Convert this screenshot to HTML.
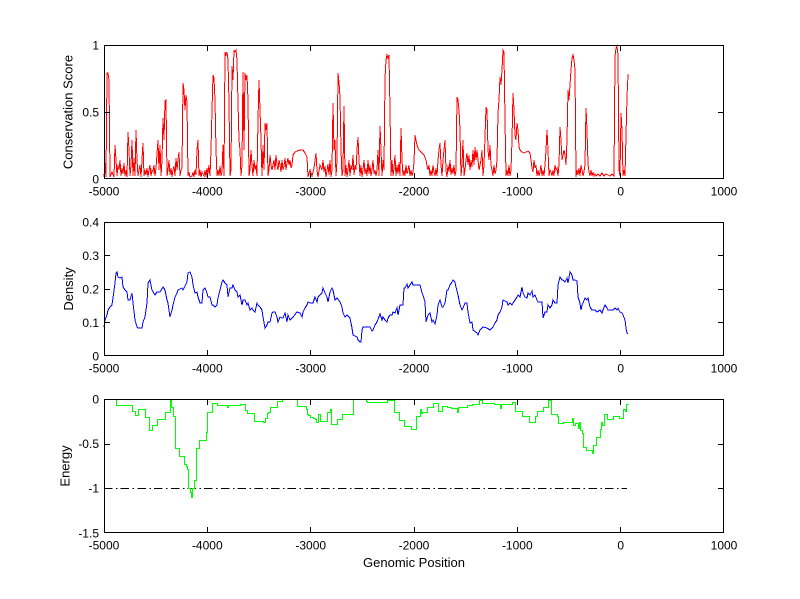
<!DOCTYPE html>
<html>
<head>
<meta charset="utf-8">
<style>
html,body{margin:0;padding:0;background:#fff;}
svg{display:block;}
text{font-family:"Liberation Sans",Arial,sans-serif;fill:#000;}
.t{font-size:12px;}
.l{font-size:13px;}
</style>
</head>
<body>
<svg width="800" height="599" viewBox="0 0 800 599" xmlns="http://www.w3.org/2000/svg">
<rect x="0" y="0" width="800" height="599" fill="#fff"/>

<!-- ===== TOP: Conservation Score ===== -->
<polyline fill="none" stroke="#ff0000" stroke-width="1" stroke-linejoin="miter" shape-rendering="crispEdges" points="104,177 105,163 106,177 107,73 108,73 109,80 110,177 112,172 114,177 115,145 116,160 117,176 118,165 119,170 120,160 121,176 122,168 123,174 124,163 125,176 126,170 127,177 128,132 129,150 130,176 131,165 132,140 133,176 134,158 135,176 136,130 137,160 138,176 139,170 140,165 141,177 142,160 143,143 144,176 145,170 146,175 147,168 148,177 149,170 150,165 151,176 152,170 153,172 154,165 155,176 156,168 158,140 159,170 160,145 161,176 162,160 163,118 164,140 165,101 166,100 167,176 168,170 169,160 170,175 171,168 172,177 173,170 174,166 175,176 176,158 177,170 178,160 179,152 180,176 181,170 182,168 183,83 184,90 185,110 186,95 187,102 188,176 189,172 190,177 192,176 193,172 194,177 195,170 196,175 197,150 198,140 199,176 200,170 201,177 202,172 204,176 205,170 206,177 207,168 208,174 209,165 210,176 211,150 212,110 213,75 214,78 215,100 216,150 217,176 218,170 219,176 220,166 221,176 222,172 223,145 224,176 225,52 226,55 227,52 228,60 229,103 230,176 231,170 232,66 233,80 234,50 235,52 236,50 237,60 238,103 239,140 240,150 241,176 242,165 243,72 244,150 245,73 246,80 247,75 248,100 249,176 250,170 251,150 252,165 253,176 254,160 255,170 256,165 257,176 258,120 259,80 260,110 261,140 262,176 263,145 264,170 265,123 266,130 267,123 268,176 269,170 270,155 271,165 272,170 273,165 274,160 275,170 276,155 277,165 278,170 279,160 280,165 281,172 282,160 283,170 284,166 285,158 286,170 287,163 288,158 289,165 290,160 291,168 292,165 293,155 295,152 297,151 300,150 303,150 305,153 307,157 308,177 310,170 312,176 314,168 316,153 317,170 318,177 320,165 322,170 323,160 324,172 325,166 326,177 328,164 329,175 330,160 331,177 332,170 333,103 334,150 335,140 336,176 337,160 338,73 339,82 340,97 341,150 342,176 343,170 344,106 345,176 346,165 347,177 348,170 349,160 350,176 351,165 352,170 353,155 354,175 355,165 356,170 357,150 358,137 359,160 360,176 361,165 362,177 363,170 364,160 365,174 366,168 367,176 368,160 369,174 370,165 371,176 372,170 373,160 374,174 375,170 376,176 377,170 378,150 379,176 380,126 381,150 382,176 383,160 384,170 385,78 386,60 387,55 388,58 389,55 390,110 391,176 392,160 393,176 394,168 395,155 396,176 397,165 398,174 399,162 400,176 401,128 402,160 403,176 404,170 405,176 406,165 407,174 408,170 409,165 410,176 411,170 412,176 413,172 414,162 415,135 416,140 417,145 418,148 419,150 420,151 422,153 424,155 426,160 427,166 428,170 429,165 430,176 431,170 432,176 433,165 434,172 435,176 436,168 437,176 438,160 439,150 440,143 441,165 442,176 443,160 444,150 445,140 446,170 447,177 448,165 449,172 450,160 451,175 452,168 453,174 454,165 455,176 456,170 457,97 458,100 459,110 460,130 461,176 462,165 463,140 464,176 465,170 466,160 467,153 468,165 469,155 470,170 471,160 472,167 473,150 474,165 475,147 476,160 477,150 478,160 479,170 480,165 481,160 482,150 483,176 484,165 485,137 486,107 487,110 488,150 489,160 490,145 491,165 492,170 493,176 494,165 495,174 496,170 497,160 498,113 499,100 500,77 501,85 502,70 503,50 504,52 505,120 506,176 507,170 508,176 509,165 510,176 511,170 512,140 513,93 514,110 515,135 516,140 517,123 518,130 519,147 520,150 522,152 524,153 526,152 528,151 530,153 531,160 532,168 533,172 534,160 535,168 536,165 537,176 538,170 539,176 540,172 541,165 542,176 543,170 544,176 545,165 546,150 547,130 548,150 549,176 550,170 551,172 552,176 553,170 554,176 555,165 556,170 557,168 558,176 559,165 560,127 561,140 562,160 563,155 564,150 565,155 566,165 567,140 568,90 569,100 570,85 571,70 572,58 573,55 574,60 575,70 576,177 577,170 578,175 579,168 580,176 581,165 582,170 583,176 584,172 585,165 586,108 587,130 588,164 589,172 590,176 591,170 592,176 593,172 594,176 595,174 596,176 598,174 600,176 602,173 604,176 606,174 608,175 610,176 612,174 614,176 615,57 616,48 617,46 618,55 619,170 620,176 621,113 622,130 623,176 624,170 625,176 626,135 627,97 628,75 629,75"/>

<g stroke="#000" stroke-width="1" fill="none" shape-rendering="crispEdges">
<rect x="104.5" y="45.5" width="619" height="133"/>
<path d="M207.5,179V173 M310.5,179V173 M414.5,179V173 M517.5,179V173 M620.5,179V173 M207.5,45V51 M310.5,45V51 M414.5,45V51 M517.5,45V51 M620.5,45V51"/>
<path d="M104,112.5H110 M724,112.5H718"/>
</g>
<g class="t" text-anchor="end">
<text x="99" y="183.5">0</text>
<text x="99" y="116.5">0.5</text>
<text x="99" y="49.5">1</text>
</g>
<g class="t" text-anchor="middle">
<text x="104" y="195.3">-5000</text>
<text x="207.3" y="195.3">-4000</text>
<text x="310.7" y="195.3">-3000</text>
<text x="414" y="195.3">-2000</text>
<text x="517.3" y="195.3">-1000</text>
<text x="620.7" y="195.3">0</text>
<text x="724" y="195.3">1000</text>
</g>
<text class="l" text-anchor="middle" transform="translate(72.5,112) rotate(-90)">Conservation Score</text>

<!-- ===== MIDDLE: Density ===== -->
<polyline fill="none" stroke="#0000ff" stroke-width="1" shape-rendering="crispEdges" points="104,327 105,320 107,315 108,310 110,307 112,305 113,298 115,283 116,273 117,272 118,277 120,278 122,277 123,287 125,290 127,292 128,300 130,300 132,293 133,303 135,320 137,327 138,328 140,328 142,328 143,322 145,317 147,303 148,283 150,280 152,290 155,295 157,292 160,292 163,287 165,290 167,300 168,303 170,317 172,310 173,305 175,297 177,293 178,290 182,288 183,290 185,286 187,282 188,273 190,272 192,277 193,285 195,293 197,292 198,297 200,303 202,303 203,290 205,288 207,293 208,297 210,297 212,305 213,305 215,307 217,305 218,298 220,290 222,282 223,280 225,283 227,285 228,297 230,288 232,288 233,285 235,290 237,292 238,297 240,295 242,305 243,300 245,300 247,305 248,303 250,310 252,308 253,310 255,312 257,303 258,305 260,307 262,310 263,317 265,328 267,325 268,322 270,322 272,313 273,312 275,312 277,317 278,322 280,317 282,318 283,318 285,313 287,322 288,315 290,320 293,317 297,312 300,313 302,317 303,312 305,308 307,305 308,302 310,303 313,303 315,297 317,302 318,297 320,295 322,293 323,288 325,293 327,297 328,302 330,292 332,288 333,290 335,300 337,298 340,302 342,307 343,313 345,317 347,315 350,318 352,328 353,335 357,337 358,340 360,342 361,342 362,330 363,327 367,327 370,327 372,331 373,330 375,325 377,322 380,314 382,320 383,317 385,320 387,322 388,318 390,315 392,315 393,312 395,313 397,308 398,315 400,305 403,305 404,288 405,288 407,284 408,288 410,285 412,282 413,285 420,285 422,293 423,295 425,302 426,322 428,315 430,313 432,322 433,320 435,324 437,315 438,305 440,300 442,307 443,307 445,303 447,290 448,290 450,285 452,282 453,280 455,282 456,287 458,295 460,305 462,310 463,308 465,303 467,303 468,312 470,323 472,322 473,330 477,333 478,335 480,330 483,327 487,328 490,330 493,327 495,323 497,320 498,315 500,312 502,307 503,300 507,302 508,305 510,303 512,305 513,303 515,300 517,297 518,295 520,297 522,287 523,293 525,297 527,298 528,293 530,295 532,291 533,297 535,295 537,300 538,302 542,302 543,318 545,312 547,312 548,305 550,308 552,305 553,300 555,303 557,303 558,285 560,277 562,280 563,280 565,282 567,278 568,283 570,272 572,275 573,280 575,280 577,281 578,297 580,303 581,310 582,305 583,303 585,298 587,300 588,298 590,307 592,310 595,310 597,312 600,310 602,313 603,310 605,305 607,308 608,310 613,310 615,308 617,310 618,308 620,312 622,313 623,315 625,320 626,328 627,333 628,334"/>

<g stroke="#000" stroke-width="1" fill="none" shape-rendering="crispEdges">
<rect x="104.5" y="222.5" width="619" height="133"/>
<path d="M207.5,356V350 M310.5,356V350 M414.5,356V350 M517.5,356V350 M620.5,356V350 M207.5,222V228 M310.5,222V228 M414.5,222V228 M517.5,222V228 M620.5,222V228"/>
<path d="M104,322.5H110 M104,289.5H110 M104,255.5H110 M724,322.5H718 M724,289.5H718 M724,255.5H718"/>
</g>
<g class="t" text-anchor="end">
<text x="99" y="360.5">0</text>
<text x="99" y="327">0.1</text>
<text x="99" y="293.5">0.2</text>
<text x="99" y="260">0.3</text>
<text x="99" y="226.5">0.4</text>
</g>
<g class="t" text-anchor="middle">
<text x="104" y="372.3">-5000</text>
<text x="207.3" y="372.3">-4000</text>
<text x="310.7" y="372.3">-3000</text>
<text x="414" y="372.3">-2000</text>
<text x="517.3" y="372.3">-1000</text>
<text x="620.7" y="372.3">0</text>
<text x="724" y="372.3">1000</text>
</g>
<text class="l" text-anchor="middle" transform="translate(73,289) rotate(-90)">Density</text>

<!-- ===== BOTTOM: Energy ===== -->
<line x1="104" y1="488.5" x2="627" y2="488.5" stroke="#000" stroke-width="1" stroke-dasharray="8.5 3.5 1.5 3.2" shape-rendering="crispEdges"/>
<polyline fill="none" stroke="#00ff00" stroke-width="1" shape-rendering="crispEdges" points="114.5,399.5 116.5,399.5 116.5,405.5 132.5,405.5 132.5,411.5 135.5,411.5 135.5,415.5 138.5,415.5 138.5,409.5 145.5,409.5 145.5,417.5 149.5,417.5 149.5,430.5 152.5,430.5 152.5,425.5 157.5,425.5 157.5,419.5 165.5,419.5 165.5,412.5 170.5,412.5 170.5,399.5 171.5,399.5 171.5,407.5 173.5,407.5 173.5,416.5 175.5,416.5 175.5,448.5 179.5,448.5 179.5,456.5 184.5,456.5 184.5,464.5 186.5,464.5 186.5,466.5 187.5,466.5 187.5,469.5 188.5,469.5 188.5,488.5 190.5,488.5 190.5,492.5 191.5,492.5 191.5,497.5 192.5,497.5 192.5,488.5 194.5,488.5 194.5,480.5 196.5,480.5 196.5,448.5 199.5,448.5 199.5,440.5 206.5,440.5 206.5,432.5 207.5,432.5 207.5,412.5 212.5,412.5 212.5,403.5 217.5,403.5 217.5,405.5 227.5,405.5 227.5,407.5 228.5,407.5 228.5,405.5 240.5,405.5 240.5,404.5 245.5,404.5 245.5,410.5 247.5,410.5 247.5,413.5 254.5,413.5 254.5,421.5 263.5,421.5 263.5,422.5 265.5,422.5 265.5,418.5 267.5,418.5 267.5,413.5 268.5,413.5 268.5,412.5 270.5,412.5 270.5,407.5 277.5,407.5 277.5,401.5 282.5,401.5 282.5,399.5 297.5,399.5 297.5,406.5 306.5,406.5 306.5,409.5 307.5,409.5 307.5,414.5 308.5,414.5 308.5,415.5 310.5,415.5 310.5,417.5 313.5,417.5 313.5,418.5 315.5,418.5 315.5,419.5 316.5,419.5 316.5,422.5 318.5,422.5 318.5,414.5 320.5,414.5 320.5,421.5 327.5,421.5 327.5,412.5 330.5,412.5 330.5,409.5 331.5,409.5 331.5,424.5 337.5,424.5 337.5,419.5 342.5,419.5 342.5,414.5 353.5,414.5 353.5,399.5 366.5,399.5 366.5,401.5 367.5,401.5 367.5,402.5 387.5,402.5 387.5,400.5 394.5,400.5 394.5,412.5 399.5,412.5 399.5,420.5 404.5,420.5 404.5,426.5 411.5,426.5 411.5,429.5 416.5,429.5 416.5,416.5 420.5,416.5 420.5,409.5 421.5,409.5 421.5,413.5 422.5,413.5 422.5,412.5 427.5,412.5 427.5,407.5 433.5,407.5 433.5,403.5 438.5,403.5 438.5,411.5 442.5,411.5 442.5,406.5 447.5,406.5 447.5,407.5 451.5,407.5 451.5,408.5 457.5,408.5 457.5,412.5 458.5,412.5 458.5,407.5 467.5,407.5 467.5,405.5 472.5,405.5 472.5,404.5 479.5,404.5 479.5,400.5 482.5,400.5 482.5,403.5 494.5,403.5 494.5,404.5 500.5,404.5 500.5,408.5 501.5,408.5 501.5,404.5 512.5,404.5 512.5,402.5 515.5,402.5 515.5,411.5 522.5,411.5 522.5,416.5 529.5,416.5 529.5,422.5 535.5,422.5 535.5,416.5 537.5,416.5 537.5,411.5 543.5,411.5 543.5,407.5 548.5,407.5 548.5,400.5 551.5,400.5 551.5,414.5 557.5,414.5 557.5,416.5 558.5,416.5 558.5,423.5 563.5,423.5 563.5,422.5 572.5,422.5 572.5,418.5 573.5,418.5 573.5,425.5 575.5,425.5 575.5,423.5 578.5,423.5 578.5,428.5 579.5,428.5 579.5,422.5 580.5,422.5 580.5,430.5 582.5,430.5 582.5,433.5 583.5,433.5 583.5,447.5 586.5,447.5 586.5,450.5 592.5,450.5 592.5,453.5 593.5,453.5 593.5,445.5 596.5,445.5 596.5,437.5 600.5,437.5 600.5,429.5 601.5,429.5 601.5,422.5 602.5,422.5 602.5,425.5 604.5,425.5 604.5,414.5 607.5,414.5 607.5,419.5 613.5,419.5 613.5,416.5 619.5,416.5 619.5,418.5 623.5,418.5 623.5,409.5 625.5,409.5 625.5,411.5 626.5,411.5 626.5,404.5 628.5,404.5"/>

<g stroke="#000" stroke-width="1" fill="none" shape-rendering="crispEdges">
<rect x="104.5" y="399.5" width="619" height="133"/>
<path d="M207.5,533V527 M310.5,533V527 M414.5,533V527 M517.5,533V527 M620.5,533V527 M207.5,399V405 M310.5,399V405 M414.5,399V405 M517.5,399V405 M620.5,399V405"/>
<path d="M104,444.5H110 M104,488.5H110 M724,444.5H718 M724,488.5H718"/>
</g>
<g class="t" text-anchor="end">
<text x="99" y="403.5">0</text>
<text x="99" y="448">-0.5</text>
<text x="99" y="492.5">-1</text>
<text x="99" y="537.5">-1.5</text>
</g>
<g class="t" text-anchor="middle">
<text x="104" y="549.3">-5000</text>
<text x="207.3" y="549.3">-4000</text>
<text x="310.7" y="549.3">-3000</text>
<text x="414" y="549.3">-2000</text>
<text x="517.3" y="549.3">-1000</text>
<text x="620.7" y="549.3">0</text>
<text x="724" y="549.3">1000</text>
</g>
<text class="l" text-anchor="middle" transform="translate(69.3,466) rotate(-90)">Energy</text>
<text class="l" text-anchor="middle" x="414" y="567">Genomic Position</text>
</svg>
</body>
</html>
